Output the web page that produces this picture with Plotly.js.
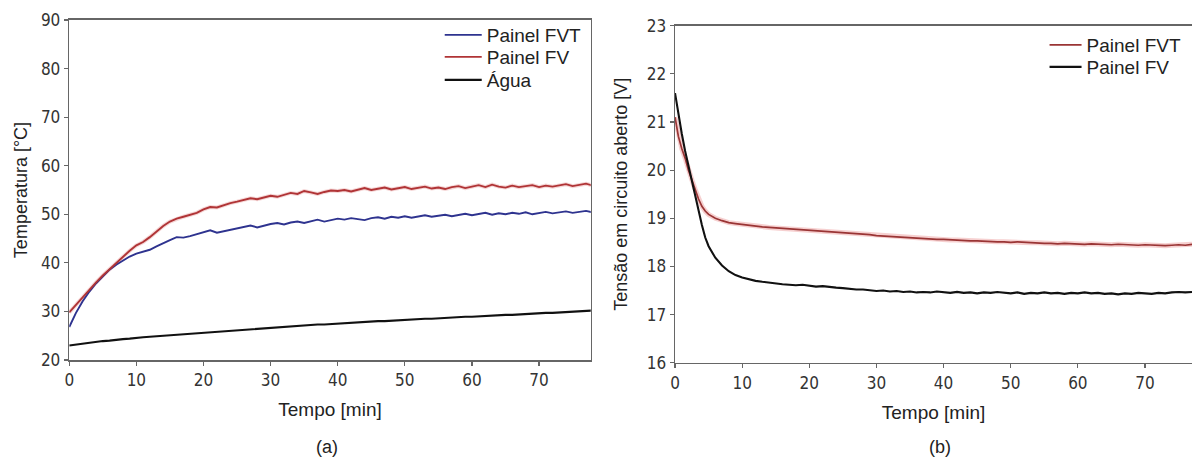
<!DOCTYPE html>
<html>
<head>
<meta charset="utf-8">
<script src="https://cdn.plot.ly/plotly-3.0.1.min.js"></script>
<style>html,body{margin:0;padding:0;background:#fff;}#chart{width:1192px;height:464px;}</style>
</head>
<body>
<div id="chart"></div>
<script>
// ---------- Panel (a): temperatures ----------
const tempoA = [0,1,2,3,4,5,6,7,8,9,10,11,12,13,14,15,16,17,18,19,20,21,22,23,24,25,26,27,28,29,30,31,32,33,34,35,36,37,38,39,40,41,42,43,44,45,46,47,48,49,50,51,52,53,54,55,56,57,58,59,60,61,62,63,64,65,66,67,68,69,70,71,72,73,74,75,76,77,78];
const painelFVT_A = [26.8,29.7,32.1,34.1,35.8,37.3,38.6,39.6,40.5,41.3,41.9,42.3,42.7,43.4,44.1,44.7,45.3,45.2,45.5,45.9,46.3,46.7,46.2,46.5,46.9,47.2,47.5,47.7,47.3,47.7,48.0,48.2,47.9,48.3,48.5,48.2,48.6,48.9,48.5,48.8,49.1,48.9,49.2,49.0,48.8,49.2,49.4,49.1,49.5,49.3,49.6,49.3,49.5,49.8,49.5,49.7,49.9,49.6,49.8,50.1,49.8,50.0,50.3,49.9,50.2,50.0,50.3,50.1,50.4,50.0,50.2,50.5,50.2,50.4,50.6,50.3,50.5,50.7,50.4];
const painelFV_A = [29.8,31.4,33.0,34.5,36.0,37.4,38.7,40.0,41.3,42.5,43.6,44.3,45.3,46.5,47.6,48.5,49.1,49.5,49.9,50.3,51.0,51.5,51.4,51.9,52.3,52.6,52.9,53.3,53.1,53.5,53.8,53.6,54.0,54.4,54.2,54.8,54.5,54.2,54.6,54.9,54.8,55.0,54.7,55.1,55.4,55.0,55.2,55.5,55.1,55.3,55.6,55.2,55.4,55.7,55.3,55.5,55.2,55.6,55.8,55.4,55.7,56.0,55.6,56.1,55.7,55.5,55.9,55.6,55.8,56.0,55.6,55.9,55.7,56.0,56.2,55.8,56.1,56.3,55.9];
const agua_A = [23.0,23.2,23.4,23.5,23.7,23.9,24.0,24.2,24.3,24.4,24.6,24.7,24.8,24.9,25.0,25.2,25.3,25.4,25.4,25.6,25.7,25.8,25.9,26.0,26.1,26.2,26.3,26.4,26.5,26.6,26.7,26.8,26.9,26.9,27.0,27.1,27.2,27.3,27.3,27.4,27.5,27.6,27.7,27.7,27.8,27.9,28.0,28.0,28.1,28.2,28.3,28.3,28.4,28.5,28.5,28.6,28.7,28.7,28.8,28.9,28.9,29.0,29.1,29.1,29.2,29.3,29.3,29.4,29.5,29.5,29.6,29.7,29.7,29.8,29.9,29.9,30.0,30.1,30.2];

// ---------- Panel (b): open-circuit voltage ----------
const tempoB = [0,0.5,1,1.5,2,2.5,3,3.5,4,4.5,5,6,7,8,9,10,11,12,13,14,15,16,17,18,19,20,21,22,23,24,25,26,27,28,29,30,31,32,33,34,35,36,37,38,39,40,41,42,43,44,45,46,47,48,49,50,51,52,53,54,55,56,57,58,59,60,61,62,63,64,65,66,67,68,69,70,71,72,73,74,75,76,77];
const painelFVT_B = [21.10,20.70,20.45,20.25,20.00,19.80,19.60,19.40,19.25,19.15,19.08,19.00,18.95,18.91,18.89,18.87,18.85,18.84,18.82,18.81,18.80,18.79,18.78,18.77,18.77,18.76,18.75,18.74,18.73,18.72,18.71,18.70,18.68,18.67,18.66,18.64,18.63,18.62,18.61,18.60,18.59,18.58,18.58,18.57,18.56,18.56,18.55,18.55,18.54,18.53,18.53,18.52,18.52,18.51,18.51,18.50,18.51,18.50,18.49,18.49,18.48,18.48,18.47,18.48,18.47,18.47,18.46,18.47,18.46,18.46,18.45,18.46,18.45,18.45,18.44,18.45,18.44,18.44,18.43,18.44,18.45,18.44,18.46];
const painelFV_B = [21.60,21.15,20.76,20.40,20.08,19.76,19.46,19.16,18.86,18.60,18.42,18.18,18.02,17.90,17.82,17.77,17.73,17.70,17.68,17.66,17.64,17.63,17.62,17.61,17.62,17.60,17.58,17.59,17.57,17.56,17.55,17.53,17.52,17.52,17.50,17.49,17.50,17.48,17.49,17.47,17.48,17.46,17.47,17.46,17.48,17.46,17.45,17.47,17.45,17.46,17.44,17.46,17.45,17.47,17.45,17.44,17.46,17.43,17.45,17.44,17.46,17.44,17.45,17.43,17.45,17.44,17.46,17.44,17.45,17.43,17.44,17.42,17.44,17.43,17.45,17.44,17.43,17.45,17.44,17.46,17.47,17.46,17.47];

const seriesNamesA = ['Painel FVT', 'Painel FV', 'Água'];
const seriesNamesB = ['Painel FVT', 'Painel FV'];
const panelLabels = ['(a)', '(b)'];
const xTitle = 'Tempo [min]';
const yTitleA = 'Temperatura [°C]';
const yTitleB = 'Tensão em circuito aberto [V]';

const sans = 'Liberation Sans, Arial, sans-serif';
const tickFont = {family: 'DejaVu Sans Condensed, DejaVu Sans, sans-serif', size: 17, color: '#333'};
const xTitleFont = {family: sans, size: 19, color: '#222'};
const yTitleFont = {family: sans, size: 18, color: '#222'};
const legFont = {family: sans, size: 19, color: '#222'};
const axisCol = '#666';

const traces = [
  {x: tempoA, y: painelFV_A, xaxis: 'x', yaxis: 'y', mode: 'lines', showlegend: false, hoverinfo: 'skip',
   line: {color: 'rgba(220,110,110,0.28)', width: 4}},
  {x: tempoA, y: painelFVT_A, xaxis: 'x', yaxis: 'y', mode: 'lines', name: seriesNamesA[0], legend: 'legend',
   line: {color: '#2e338f', width: 1.9}},
  {x: tempoA, y: painelFV_A, xaxis: 'x', yaxis: 'y', mode: 'lines', name: seriesNamesA[1], legend: 'legend2',
   line: {color: '#b03436', width: 1.9}},
  {x: tempoA, y: agua_A, xaxis: 'x', yaxis: 'y', mode: 'lines', name: seriesNamesA[2], legend: 'legend3',
   line: {color: '#111', width: 2.1}},
  {x: tempoB, y: painelFVT_B, xaxis: 'x2', yaxis: 'y2', mode: 'lines', showlegend: false, hoverinfo: 'skip',
   line: {color: 'rgba(230,120,120,0.35)', width: 5}},
  {x: tempoB, y: painelFVT_B, xaxis: 'x2', yaxis: 'y2', mode: 'lines', name: seriesNamesB[0], legend: 'legend4',
   line: {color: '#9a3535', width: 1.7}},
  {x: tempoB, y: painelFV_B, xaxis: 'x2', yaxis: 'y2', mode: 'lines', name: seriesNamesB[1], legend: 'legend5',
   line: {color: '#111', width: 2.1}}
];

const commonAxis = {
  showline: true, linecolor: axisCol, linewidth: 1.5, showgrid: false, zeroline: false,
  ticks: 'outside', ticklen: 4, tickwidth: 1.2, tickcolor: axisCol, tickfont: tickFont
};

function leg(x, yPix, iw) {
  return {x: x, xanchor: 'left', y: 1 - yPix / 464, yanchor: 'middle',
    bgcolor: 'rgba(0,0,0,0)', borderwidth: 0, font: legFont, itemwidth: iw};
}

const layout = {
  width: 1192, height: 464,
  margin: {l: 0, r: 0, t: 0, b: 0},
  paper_bgcolor: '#fff', plot_bgcolor: '#fff',
  showlegend: true,
  xaxis: Object.assign({}, commonAxis, {
    domain: [0.0581, 0.4956], range: [0, 77.7], dtick: 10, tick0: 0, mirror: true, anchor: 'y',
    title: {text: xTitle, font: xTitleFont, standoff: 14}
  }),
  yaxis: Object.assign({}, commonAxis, {
    domain: [0.2241, 0.9569], range: [20, 90], dtick: 10, mirror: true, anchor: 'x',
    title: {text: yTitleA, font: yTitleFont, standoff: 8}
  }),
  xaxis2: Object.assign({}, commonAxis, {
    domain: [0.5663, 1.0], range: [0, 77], dtick: 10, tick0: 0, mirror: true, anchor: 'y2',
    title: {text: xTitle, font: xTitleFont, standoff: 14}
  }),
  yaxis2: Object.assign({}, commonAxis, {
    domain: [0.2183, 0.9446], range: [16, 23], dtick: 1, mirror: false, anchor: 'x2',
    title: {text: yTitleB, font: yTitleFont, standoff: 14}
  }),
  legend: leg(0.3689, 35, 37),
  legend2: leg(0.3689, 57, 37),
  legend3: leg(0.3689, 80, 37),
  legend4: leg(0.8763, 45, 32),
  legend5: leg(0.8763, 67, 32),
  annotations: [
    {text: panelLabels[0], xref: 'paper', yref: 'paper', x: 327 / 1192, y: 1 - 447 / 464, xanchor: 'center', yanchor: 'middle',
     showarrow: false, font: {family: sans, size: 18, color: '#222'}},
    {text: panelLabels[1], xref: 'paper', yref: 'paper', x: 940 / 1192, y: 1 - 447 / 464, xanchor: 'center', yanchor: 'middle',
     showarrow: false, font: {family: sans, size: 18, color: '#222'}}
  ]
};

Plotly.newPlot('chart', traces, layout, {staticPlot: true, displayModeBar: false});
</script>
</body>
</html>
